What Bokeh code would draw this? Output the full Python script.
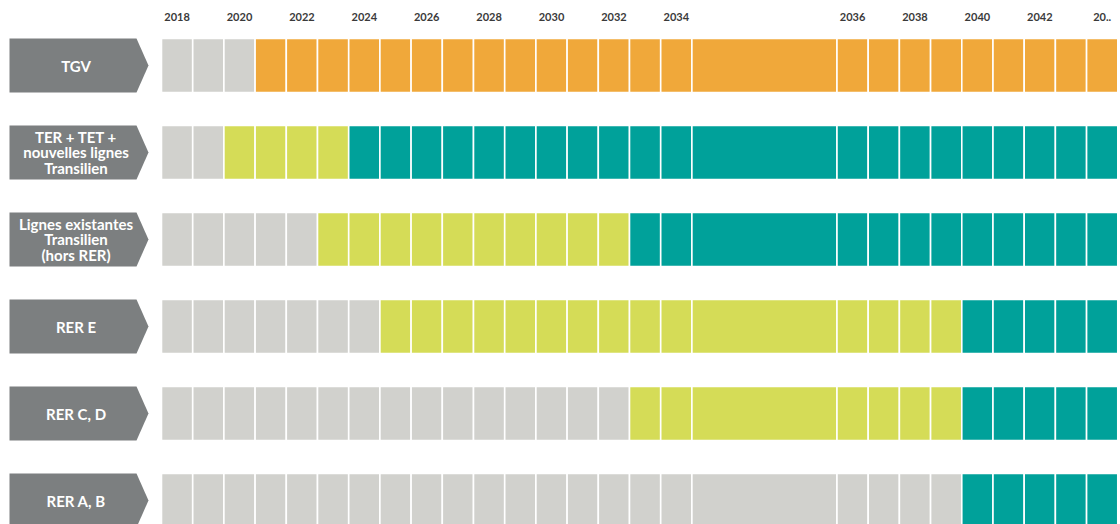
from bokeh.plotting import figure
from bokeh.models import Range1d, ColumnDataSource
from bokeh.core.properties import value
from bokeh.embed import file_html
from bokeh.resources import INLINE

# ---------------- data ----------------
years = list(range(2018, 2045))
tick_years = [2018, 2020, 2022, 2024, 2026, 2028, 2030, 2032, 2034, 2036, 2038, 2040, 2042, 2044]
tick_labels = ["2018", "2020", "2022", "2024", "2026", "2028", "2030", "2032", "2034",
               "2036", "2038", "2040", "2042", "20.."]
rows = ["TGV",
        "TER + TET +\nnouvelles lignes\nTransilien",
        "Lignes existantes\nTransilien\n(hors RER)",
        "RER E",
        "RER C, D",
        "RER A, B"]
transition_from = [None, 2020, 2023, 2025, 2033, None]   # lime phase start
final_from = [2021, 2024, 2033, 2040, 2040, 2040]          # final phase start
final_kind = ["tgv", "done", "done", "done", "done", "done"]

# ---------------- layout / style ----------------
WIDE_YEAR, WIDE_SPAN = 2035, 4.65
ROW_H = 0.62
COLORS = {"before": "#D1D1CD", "transition": "#D5DC57", "tgv": "#F0A83A", "done": "#00A19A"}
ARROW = "#7C7F80"

# cell edges
lefts, rights = {}, {}
pos = 0.0
for yr in years:
    w = WIDE_SPAN if yr == WIDE_YEAR else 1.0
    lefts[yr], rights[yr] = pos, pos + w
    pos += w

L, R, T, B, C = [], [], [], [], []
for i, name in enumerate(rows):
    for yr in years:
        if yr >= final_from[i]:
            st = final_kind[i]
        elif transition_from[i] is not None and yr >= transition_from[i]:
            st = "transition"
        else:
            st = "before"
        L.append(lefts[yr]); R.append(rights[yr])
        T.append(i - ROW_H / 2); B.append(i + ROW_H / 2)
        C.append(COLORS[st])
cells = ColumnDataSource(dict(left=L, right=R, top=T, bottom=B, color=C))

W, H = 1120, 524
p = figure(width=W, height=H, output_backend="svg", toolbar_location=None,
           x_range=Range1d((0 - 161) / 31.2, (W - 161) / 31.2),
           y_range=Range1d((H - 65) / 87, (0 - 65) / 87),
           min_border=0, outline_line_color=None)
p.axis.visible = False
p.grid.visible = False
p.background_fill_color = "white"

p.quad(left="left", right="right", top="top", bottom="bottom", source=cells,
       fill_color="color", line_color="white", line_width=1.6)

# arrow labels
xs, ys = [], []
for i in range(len(rows)):
    h = ROW_H / 2
    xs.append([-4.872, -0.801, -0.417, -0.801, -4.872])
    ys.append([i - h, i - h, i, i + h, i + h])
p.patches(xs, ys, fill_color=ARROW, line_color=None)
p.text(x=[-2.74] * len(rows), y=list(range(len(rows))), text=rows,
       text_font=value("Lato"), text_font_style="bold", text_font_size="15px",
       text_color="white", text_align="center", text_baseline="middle",
       text_line_height=0.84)

# year labels
tx = [(lefts[y] + rights[y]) / 2 for y in tick_years]
p.text(x=tx, y=[-0.552] * len(tx), text=tick_labels,
       text_font=value("Lato"), text_font_style="bold", text_font_size="11px",
       text_color="#3A3A3A", text_align="center", text_baseline="middle")

open("out.html", "w").write(file_html(p, INLINE))
